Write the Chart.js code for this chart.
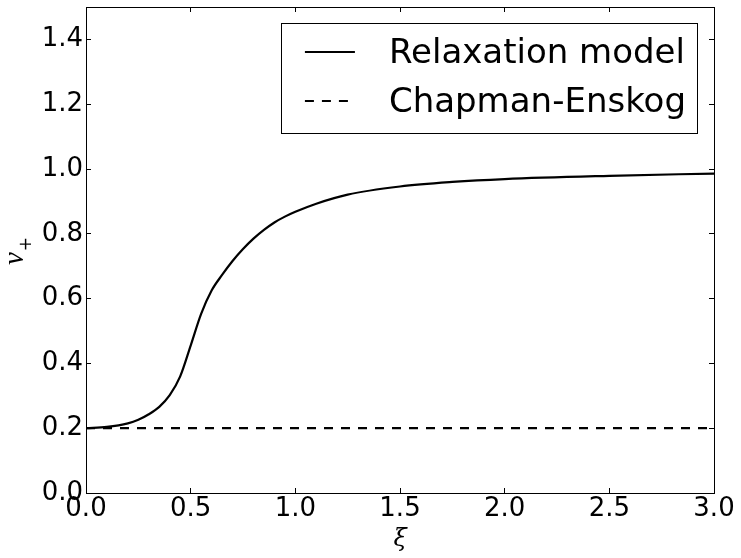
<!DOCTYPE html>
<html>
<head>
<meta charset="utf-8">
<script src="https://cdn.jsdelivr.net/npm/chart.js@4/dist/chart.umd.min.js"></script>
<style>
  html, body { margin: 0; padding: 0; background: #fff; }
  #wrap { width: 741px; height: 558px; }
</style>
</head>
<body>
<div id="wrap"><canvas id="chart-vplus" width="741" height="558"></canvas></div>
<script>
// values
const relaxXi = [0, 0.1, 0.2, 0.25, 0.3, 0.35, 0.4, 0.45, 0.5, 0.55, 0.6, 0.65, 0.7, 0.75, 0.8, 0.85, 0.9, 0.95, 1.0, 1.1, 1.25, 1.5, 1.75, 2.0, 2.5, 3.0];
const relaxV = [0.200, 0.204, 0.215, 0.226, 0.243, 0.266, 0.302, 0.360, 0.455, 0.553, 0.625, 0.673, 0.716, 0.753, 0.785, 0.812, 0.835, 0.853, 0.868, 0.893, 0.921, 0.946, 0.960, 0.969, 0.979, 0.986];
const ceXi = [0, 3.0];
const ceV = [0.2, 0.2];
const seriesLabels = ['Relaxation model', 'Chapman-Enskog'];
const xRange = [0, 3.0];
const yRange = [0, 1.5];
const xStep = 0.5;
const yStep = 0.2;

const toPoints = (xs, ys) => xs.map((x, i) => ({ x, y: ys[i] }));

// matplotlib-style boxed legend inside the top-right of the plot
const boxLegend = {
  id: 'boxLegend',
  afterDraw(chart) {
    const { ctx, chartArea } = chart;
    ctx.save();
    ctx.font = '34px "DejaVu Sans"';
    const textW = Math.max(...chart.data.datasets.map(d => ctx.measureText(d.label).width));
    const right = chartArea.right - 17;
    const top = chartArea.top + 16;
    const w = 107 + textW + 12;
    const h = 110;
    const left = right - w;
    ctx.fillStyle = '#fff';
    ctx.fillRect(left, top, w, h);
    ctx.strokeStyle = '#000';
    ctx.lineWidth = 1;
    ctx.strokeRect(Math.round(left) + 0.5, top + 0.5, Math.round(w), h);
    chart.data.datasets.forEach((d, i) => {
      const yLine = top + 29 + i * 49;
      ctx.beginPath();
      ctx.setLineDash(d.borderDash || []);
      ctx.lineWidth = d.borderWidth;
      ctx.strokeStyle = d.borderColor;
      ctx.moveTo(left + 24, yLine);
      ctx.lineTo(left + 74, yLine);
      ctx.stroke();
      ctx.setLineDash([]);
      ctx.fillStyle = '#000';
      ctx.textBaseline = 'alphabetic';
      ctx.textAlign = 'left';
      ctx.fillText(d.label, left + 108, yLine + 11);
    });
    ctx.restore();
  }
};

// y label v_+ : italic v with a subscript plus, rotated like matplotlib's ylabel
const yLabel = {
  id: 'yLabel',
  afterDraw(chart) {
    const { ctx, chartArea } = chart;
    const cy = (chartArea.top + chartArea.bottom) / 2;
    ctx.save();
    ctx.translate(0, cy);
    ctx.rotate(-Math.PI / 2);
    ctx.fillStyle = '#000';
    ctx.textBaseline = 'alphabetic';
    ctx.textAlign = 'left';
    ctx.font = 'italic 29px "Liberation Serif"';
    const vW = ctx.measureText('v').width;
    ctx.fillText('v', -15, 23);
    ctx.font = '17px "DejaVu Sans"';
    ctx.fillText('+', -15 + vW + 1, 31);
    ctx.restore();
  }
};

const tickFont = { family: 'DejaVu Sans', size: 26 };
const fmt = v => Number(v).toFixed(1);
const noPad = s => { s.paddingTop = 0; s.paddingBottom = 0; s.paddingLeft = 0; s.paddingRight = 0; };

new Chart(document.getElementById('chart-vplus').getContext('2d'), {
  type: 'line',
  data: {
    datasets: [
      {
        label: seriesLabels[0],
        data: toPoints(relaxXi, relaxV),
        borderColor: '#000',
        borderWidth: 2.2,
        pointRadius: 0,
        cubicInterpolationMode: 'monotone',
        fill: false
      },
      {
        label: seriesLabels[1],
        data: toPoints(ceXi, ceV),
        borderColor: '#000',
        borderWidth: 2.2,
        borderDash: [9, 8],
        pointRadius: 0,
        fill: false
      }
    ]
  },
  options: {
    responsive: false,
    animation: false,
    layout: { padding: { top: 7, right: 27, left: 0, bottom: 0 } },
    plugins: { legend: { display: false }, tooltip: { enabled: false } },
    scales: {
      x: {
        type: 'linear',
        position: 'bottom',
        min: xRange[0], max: xRange[1],
        afterFit: s => { s.height = 65; noPad(s); },
        ticks: { stepSize: xStep, color: '#000', font: tickFont, padding: 6, maxRotation: 0, callback: fmt },
        grid: { drawOnChartArea: false, tickLength: -5, tickColor: '#000' },
        border: { color: '#000', width: 1 },
        title: {
          display: true, text: 'ξ', color: '#000',
          font: { family: 'DejaVu Serif', style: 'italic', size: 24, lineHeight: 1 },
          padding: { top: 0, bottom: 6 }
        }
      },
      y: {
        type: 'linear',
        position: 'left',
        min: yRange[0], max: yRange[1],
        afterFit: s => { s.width = 86; noPad(s); },
        ticks: { stepSize: yStep, includeBounds: false, color: '#000', font: tickFont, padding: 8, callback: fmt },
        grid: { drawOnChartArea: false, tickLength: -5, tickColor: '#000' },
        border: { color: '#000', width: 1 }
      },
      x2: {
        type: 'linear',
        position: 'top',
        min: xRange[0], max: xRange[1],
        afterFit: s => { s.height = 0; noPad(s); },
        ticks: { stepSize: xStep, display: false },
        grid: { drawOnChartArea: false, tickLength: -5, tickColor: '#000' },
        border: { color: '#000', width: 1 }
      },
      y2: {
        type: 'linear',
        position: 'right',
        min: yRange[0], max: yRange[1],
        afterFit: s => { s.width = 0; noPad(s); },
        ticks: { stepSize: yStep, includeBounds: false, display: false },
        grid: { drawOnChartArea: false, tickLength: -5, tickColor: '#000' },
        border: { color: '#000', width: 1 }
      }
    }
  },
  plugins: [boxLegend, yLabel]
});
</script>
</body>
</html>
